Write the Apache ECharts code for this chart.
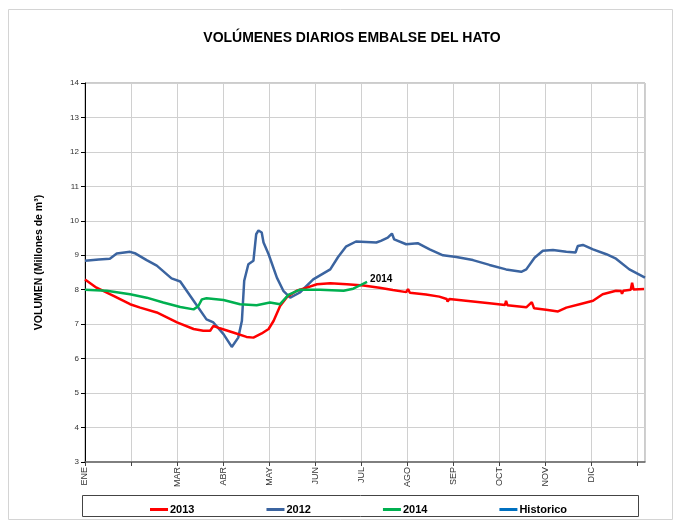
<!DOCTYPE html>
<html>
<head>
<meta charset="utf-8">
<script src="https://cdn.jsdelivr.net/npm/echarts@6/dist/echarts.min.js"></script>
<style>
  html, body { margin: 0; padding: 0; background: #fff; }
  #chart { width: 675px; height: 522px; }
</style>
</head>
<body>
<div id="chart"></div>
<script>
// month labels (FEB is blank on the original)
const monthLabels = ['ENE', '', 'MAR', 'ABR', 'MAY', 'JUN', 'JUL', 'AGO', 'SEP', 'OCT', 'NOV', 'DIC', ''];

// position along the year in months (0 = 1 ENE) and volume in Mm3
const pos2013 = [0, 0.25, 0.62, 0.98, 1.2, 1.56, 2.0, 2.36, 2.57, 2.72, 2.79, 2.93, 3.22, 3.51, 3.66, 3.84, 3.99, 4.1, 4.24, 4.39, 4.6, 4.82, 5.04, 5.33, 5.69, 6.05, 6.4, 6.69, 6.98, 7.02, 7.06, 7.41, 7.7, 7.86, 7.88, 7.92, 8.43, 8.79, 9.13, 9.15, 9.18, 9.59, 9.71, 9.76, 10.02, 10.28, 10.46, 10.75, 11.04, 11.25, 11.54, 11.65, 11.67, 11.7, 11.86, 11.89, 11.92, 12.15];
const vol2013 = [8.3, 8.06, 7.82, 7.58, 7.48, 7.34, 7.05, 6.86, 6.81, 6.81, 6.95, 6.88, 6.76, 6.63, 6.61, 6.73, 6.86, 7.1, 7.53, 7.79, 7.97, 8.06, 8.16, 8.19, 8.16, 8.12, 8.06, 7.99, 7.93, 8.02, 7.91, 7.86, 7.8, 7.73, 7.66, 7.73, 7.66, 7.61, 7.56, 7.68, 7.55, 7.49, 7.64, 7.46, 7.42, 7.37, 7.48, 7.58, 7.68, 7.87, 7.97, 7.96, 7.88, 7.97, 8.0, 8.2, 8.01, 8.02];

const pos2012 = [0, 0.3, 0.54, 0.69, 0.98, 1.1, 1.34, 1.56, 1.88, 2.07, 2.36, 2.64, 2.79, 3.01, 3.19, 3.33, 3.41, 3.46, 3.55, 3.66, 3.72, 3.77, 3.84, 3.88, 3.99, 4.17, 4.31, 4.46, 4.67, 4.96, 5.33, 5.5, 5.67, 5.89, 6.33, 6.43, 6.58, 6.67, 6.72, 6.98, 7.23, 7.49, 7.78, 8.07, 8.43, 8.79, 9.15, 9.48, 9.59, 9.77, 9.95, 10.17, 10.46, 10.66, 10.71, 10.82, 11.04, 11.33, 11.54, 11.83, 12.17];
const vol2012 = [8.84, 8.88, 8.9, 9.05, 9.1, 9.05, 8.86, 8.7, 8.33, 8.24, 7.68, 7.14, 7.05, 6.71, 6.34, 6.61, 7.1, 8.26, 8.74, 8.84, 9.61, 9.72, 9.66, 9.37, 9.03, 8.35, 7.97, 7.77, 7.92, 8.3, 8.59, 8.95, 9.25, 9.4, 9.37, 9.42, 9.51, 9.63, 9.46, 9.32, 9.35, 9.17, 9.0, 8.95, 8.86, 8.72, 8.59, 8.52, 8.59, 8.93, 9.13, 9.15, 9.1, 9.08, 9.27, 9.3, 9.17, 9.03, 8.9, 8.59, 8.35];

const pos2014 = [0, 0.47, 0.98, 1.34, 1.7, 2.07, 2.36, 2.46, 2.54, 2.64, 3.01, 3.37, 3.73, 4.02, 4.24, 4.42, 4.67, 5.11, 5.62, 5.83, 5.98, 6.13];
const vol2014 = [8.0, 7.97, 7.87, 7.77, 7.63, 7.5, 7.43, 7.52, 7.72, 7.75, 7.7, 7.58, 7.55, 7.63, 7.58, 7.85, 8.0, 8.0, 7.97, 8.03, 8.13, 8.23];

function pairs(xs, ys) {
  return xs.map(function (x, i) { return [x, ys[i]]; });
}

var chartDom = document.getElementById('chart');
var myChart = echarts.init(chartDom);
var option;

option = {
  animation: false,
  backgroundColor: '#fff',
  textStyle: { fontFamily: 'Liberation Sans, Arial, sans-serif' },
  title: {
    text: 'VOLÚMENES DIARIOS EMBALSE DEL HATO',
    left: 347,
    textAlign: 'center',
    top: 26,
    textStyle: { fontSize: 14, fontWeight: 'bold', color: '#000' }
  },
  graphic: [
    { type: 'rect', shape: { x: 8.5, y: 9.5, width: 664, height: 510 }, style: { fill: 'none', stroke: '#d4d4d4', lineWidth: 1 } },
    { type: 'rect', shape: { x: 82.5, y: 495.5, width: 556, height: 21 }, style: { fill: 'none', stroke: '#444', lineWidth: 1 } }
  ],
  legend: {
    data: ['2013', '2012', '2014', 'Historico'],
    left: 145,
    top: 499,
    itemGap: 72,
    itemWidth: 18,
    itemHeight: 3,
    icon: 'rect',
    textStyle: { fontSize: 11, fontWeight: 'bold', color: '#000', padding: [0, 0, 0, -3] }
  },
  grid: {
    left: 85,
    right: 30,
    top: 83,
    bottom: 60,
    show: true,
    borderColor: '#999',
    borderWidth: 1
  },
  xAxis: {
    type: 'value',
    min: 0,
    max: 12.17,
    interval: 1,
    axisLine: { show: true, lineStyle: { color: '#666', width: 1.5 } },
    axisTick: { show: true, length: 4, lineStyle: { color: '#444' } },
    splitLine: { show: true, lineStyle: { color: '#d0d0d0' } },
    axisLabel: {
      rotate: 90,
      fontSize: 9,
      color: '#333',
      margin: 5,
      showMaxLabel: false,
      formatter: function (v) {
        return Number.isInteger(v) ? monthLabels[v] : '';
      }
    }
  },
  yAxis: {
    type: 'value',
    min: 3,
    max: 14,
    interval: 1,
    name: 'VOLUMEN (Millones de m³)',
    nameLocation: 'middle',
    nameGap: 40,
    nameTextStyle: { fontSize: 10.5, fontWeight: 'bold', color: '#000', padding: [0, 0, 0, 20] },
    axisLine: { show: true, lineStyle: { color: '#000', width: 1 } },
    axisTick: { show: true, length: 4, lineStyle: { color: '#000' } },
    splitLine: { show: true, lineStyle: { color: '#d0d0d0' } },
    axisLabel: { fontSize: 8, color: '#333', margin: 6 }
  },
  series: [
    {
      name: '2013',
      type: 'line',
      data: pairs(pos2013, vol2013),
      showSymbol: false,
      color: '#ff0000',
      lineStyle: { width: 2.5 },
      z: 3
    },
    {
      name: '2012',
      type: 'line',
      data: pairs(pos2012, vol2012),
      showSymbol: false,
      color: '#3b64a0',
      lineStyle: { width: 2.5 },
      z: 2
    },
    {
      name: '2014',
      type: 'line',
      data: pairs(pos2014, vol2014),
      showSymbol: false,
      color: '#00b050',
      lineStyle: { width: 2.5 },
      z: 4,
      endLabel: {
        show: true,
        formatter: '2014',
        color: '#000',
        fontSize: 10,
        fontWeight: 'bold',
        distance: 3,
        offset: [0, -3]
      }
    },
    {
      name: 'Historico',
      type: 'line',
      data: [],
      showSymbol: false,
      color: '#0070c0',
      lineStyle: { width: 2.5 }
    }
  ]
};

option && myChart.setOption(option);
</script>
</body>
</html>
